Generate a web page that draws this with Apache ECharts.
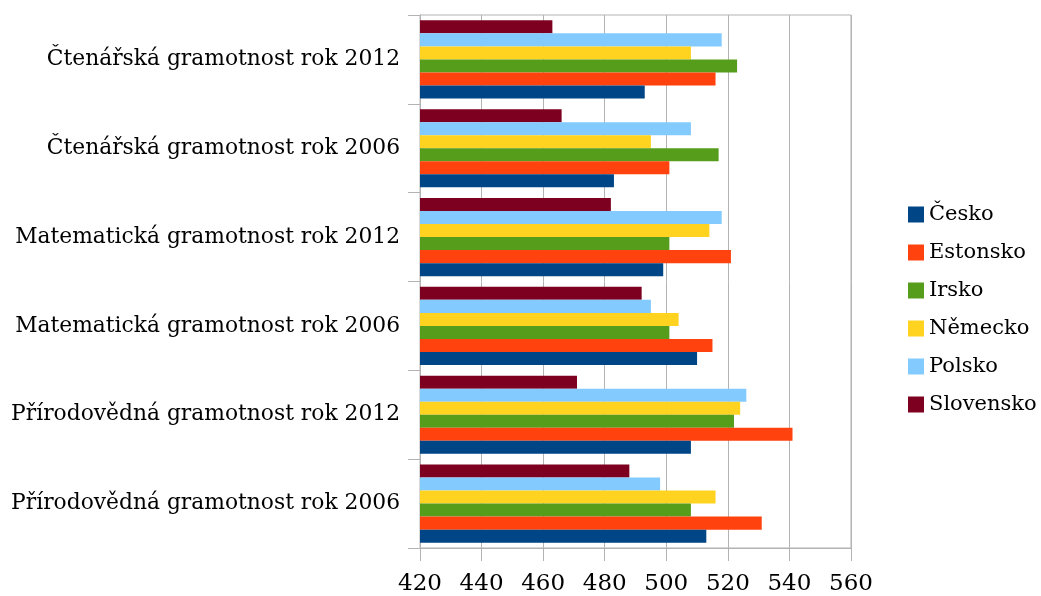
<!DOCTYPE html>
<html><head><meta charset="utf-8">
<script src="https://cdn.jsdelivr.net/npm/echarts@6/dist/echarts.min.js"></script>
<style>html,body{margin:0;padding:0;background:#fff}#c{width:1041px;height:596px}</style>
</head><body><div id="c"></div>
<script>
const categories = ['Přírodovědná gramotnost rok 2006','Přírodovědná gramotnost rok 2012','Matematická gramotnost rok 2006','Matematická gramotnost rok 2012','Čtenářská gramotnost rok 2006','Čtenářská gramotnost rok 2012'];
const seriesNames = ['Česko','Estonsko','Irsko','Německo','Polsko','Slovensko'];
const cesko     = [513, 508, 510, 499, 483, 493];
const estonsko  = [531, 541, 515, 521, 501, 516];
const irsko     = [508, 522, 501, 501, 517, 523];
const nemecko   = [516, 524, 504, 514, 495, 508];
const polsko    = [498, 526, 495, 518, 508, 518];
const slovensko = [488, 471, 492, 482, 466, 463];
const colors = ['#004586','#ff420e','#579d1c','#ffd320','#83caff','#7e0021'];
const values = [cesko, estonsko, irsko, nemecko, polsko, slovensko];
const font = 'DejaVu Serif';

const seriesList = seriesNames.map((n, i) => ({
  name: n, type: 'bar', data: values[i],
  itemStyle: {color: colors[i]},
  barGap: '0%', barCategoryGap: '12%'
})).reverse();

const chart = echarts.init(document.getElementById('c'));
chart.setOption({
  animation: false,
  textStyle: {fontFamily: font},
  grid: {left: 420, top: 15, right: 190, bottom: 48, show: true, borderColor: '#b3b3b3', borderWidth: 1},
  legend: {
    orient: 'vertical', left: 903, top: 199,
    itemWidth: 16, itemHeight: 16, itemGap: 17,
    icon: 'rect',
    textStyle: {fontFamily: font, fontSize: 21, color: '#000'},
    data: seriesNames
  },
  xAxis: {
    type: 'value', min: 420, max: 560, interval: 20,
    axisLine: {show: true, lineStyle: {color: '#b3b3b3'}},
    axisTick: {show: true, length: 13, lineStyle: {color: '#b3b3b3'}},
    axisLabel: {fontFamily: font, fontSize: 23, color: '#000', margin: 25},
    splitLine: {show: true, lineStyle: {color: '#b3b3b3'}}
  },
  yAxis: {
    type: 'category', data: categories,
    axisLine: {show: true, lineStyle: {color: '#b3b3b3'}},
    axisTick: {show: true, length: 12, lineStyle: {color: '#b3b3b3'}},
    axisLabel: {fontFamily: font, fontSize: 21.8, color: '#000', margin: 20, lineHeight: 34, verticalAlign: 'middle', padding: [8, 0, 0, 0]}
  },
  series: seriesList
});
</script></body></html>
